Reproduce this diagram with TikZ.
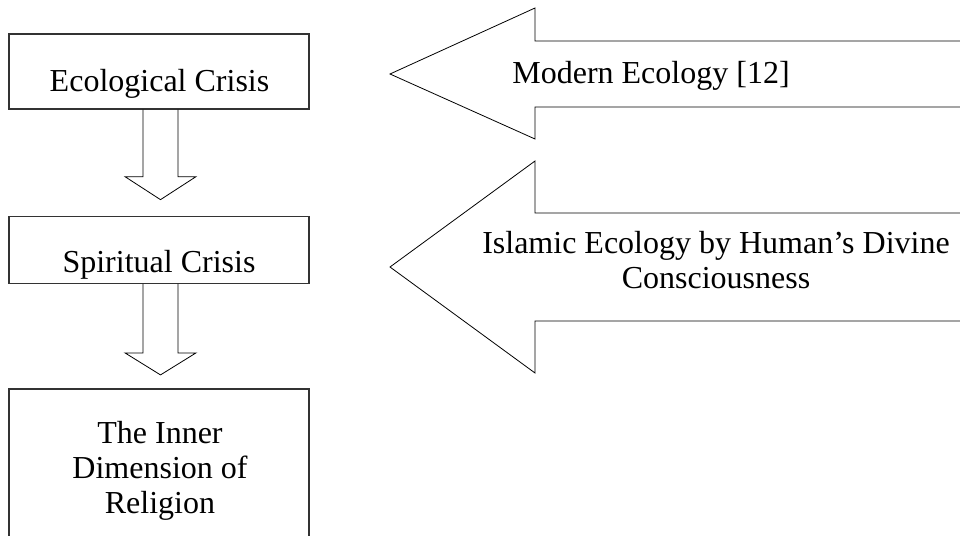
\documentclass[tikz,border=0pt]{standalone}
\usepackage{fontspec}
\setmainfont{Liberation Serif}
\usetikzlibrary{calc}
\begin{document}
\begin{tikzpicture}[x=1pt,y=-1pt,
  box/.style={draw=black!80, line width=1.3pt, rectangle, inner sep=0pt},
  blockarrow/.style={draw=black, line width=0.8pt, line join=miter},
  caption/.style={font=\fontsize{32}{35}\selectfont, align=center, inner sep=0pt}]
\useasboundingbox (0,0) rectangle (960,535);
\clip (0,0) rectangle (960,535);

% Stacked boxes on the left
\node[box, minimum width=300pt, minimum height=75pt] (eco) at (159,71.5) {};
\node[box, minimum width=300pt, minimum height=66.5pt] (spirit) at (159,250) {};
\node[box, minimum width=300pt, minimum height=211pt] (inner) at (159,494.5) {};

% Box captions (multi-line nodes sit on their last baseline)
\node[caption, anchor=base] (ecotext) at (159.5,91) {Ecological Crisis};
\node[caption, anchor=base] (spirittext) at (159,272.7) {Spiritual Crisis};
\node[caption, anchor=base] (innertext) at (160,513) {The Inner\\Dimension of\\Religion};

% Hollow block arrows between the boxes
\draw[blockarrow] ($(eco.south)+(-16,0)$) -- ++(0,67) -- ++(-18,0)
  -- ($(eco.south)+(1.5,90)$) coordinate (tipA) -- ++(35.5,-23) -- ++(-18,0)
  -- ($(eco.south)+(19,0)$);
\draw[blockarrow] ($(spirit.south)+(-16,0)$) -- ++(0,69) -- ++(-18,0)
  -- ($(spirit.south)+(1.5,91)$) coordinate (tipB) -- ++(35.5,-22) -- ++(-18,0)
  -- ($(spirit.south)+(19,0)$);

% Large left-pointing arrows on the right
\draw[blockarrow] (975,41) -- (535,41) -- (535,8) -- (390,74) coordinate (tipC)
  -- (535,139) -- (535,107) -- (975,107);
\node[caption, anchor=base] (modern) at (651,83.5) {Modern Ecology [12]};

\draw[blockarrow] (975,213) -- (535,213) -- (535,161) -- (390,267) coordinate (tipD)
  -- (535,373) -- (535,321) -- (975,321);
\node[caption, anchor=base] (islamic) at (716,288) {Islamic Ecology by Human’s Divine\\Consciousness};
\end{tikzpicture}
\end{document}
